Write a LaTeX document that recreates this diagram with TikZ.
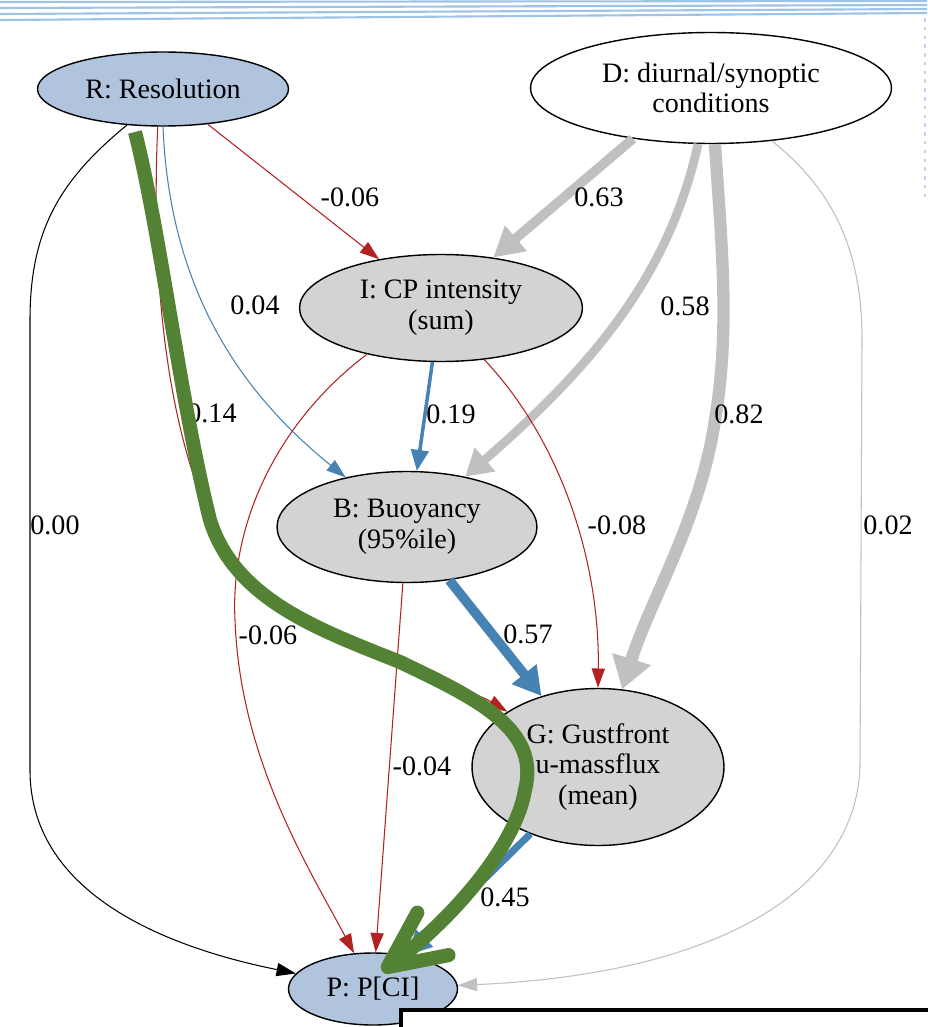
\documentclass[tikz,border=0pt]{standalone}
\usepackage{fontspec}
\setmainfont{Liberation Serif}
\usepackage{xcolor}
\usepackage{tikz}
\usetikzlibrary{positioning, arrows.meta, shapes.geometric}
\definecolor{resblue}{HTML}{B0C4DE}
\definecolor{vargray}{HTML}{D3D3D3}
\definecolor{negred}{HTML}{B22222}
\definecolor{posblue}{HTML}{4682B4}
\definecolor{condgray}{HTML}{C0C0C0}
\definecolor{pathgreen}{HTML}{548235}
\definecolor{stripeblue}{HTML}{9DC3E6}
\newcommand{\gvfont}{\fontsize{16}{17.5}\selectfont}

\begin{document}
\begin{tikzpicture}[
    x=0.02cm, y=-0.02cm,
    vnode/.style={ellipse, draw, line width=0.8pt, inner sep=0pt, align=center, font=\gvfont},
    obsnode/.style={vnode, fill=resblue},
    latnode/.style={vnode, fill=vargray},
    thinhead/.style={-{Triangle[length=11pt, width=7.5pt]}},
    negedge/.style={thinhead, negred, line width=0.6pt},
    posedge/.style={posblue},
    condedge/.style={condgray},
    hilite/.style={pathgreen, line width=8pt, -{Straight Barb[length=32pt, width=30pt, round]}},
    lab/.style={font=\gvfont, inner sep=0pt, text=black}
]
\useasboundingbox[fill=white] (0,0) rectangle (927,1027);

% Slide decoration
\foreach \k in {0,...,3}
  \draw[stripeblue, line width=1.2pt] (0,{2+6*\k}) -- (927,{1+4*\k});
\draw[stripeblue!70, line width=1.5pt, dash pattern=on 2pt off 3pt] (925,18) -- (925,200);

% Top row: resolution and conditions
\node[obsnode, minimum width=5.02cm, minimum height=1.48cm] (R) at (163,89) {R: Resolution};
\node[vnode, minimum width=7.22cm, minimum height=2.22cm] (D) at (711,88) {D: diurnal/synoptic\\conditions};

% Cold pool chain
\node[latnode, minimum width=5.66cm, minimum height=2.14cm] (I) at (441,308) {I: CP intensity\\(sum)};
\node[latnode, minimum width=5.2cm, minimum height=2.22cm] (B) at (407,527) {B: Buoyancy\\(95\%ile)};
\node[latnode, minimum width=5.04cm, minimum height=3.14cm] (G) at (598,767) {G: Gustfront\\u-massflux\\(mean)};

% Outcome
\node[obsnode, minimum width=3.38cm, minimum height=1.44cm] (P) at (373,989) {P: P[CI]};

% Edges from R
\draw[negedge] (R) -- (I) node[lab] at (350,197) {-0.06};
\draw[posedge, thinhead, line width=0.6pt] (R.south) .. controls (170,300) and (250,400) .. (B)
  node[lab] at (255,305) {0.04};
\draw[negedge] (R.262) .. controls (150,300) and (172,440) .. (215,530)
  .. controls (245,600) and (330,635) .. (410,668)
  .. controls (450,685) and (480,695) .. (G) node[lab] at (212,413) {0.14};
\draw[thinhead, black, line width=0.6pt] (R.225) .. controls (60,180) and (30,230) .. (30,320)
  -- (30,770) .. controls (30,900) and (180,950) .. (P) node[lab] at (55,525) {0.00};

% Edges from D
\draw[condedge, line width=5.5pt, -{Triangle[length=17pt, width=18pt]}] (D.213) -- (I.44)
  node[lab] at (599,197) {0.63};
\draw[condedge, line width=5pt, -{Triangle[length=15pt, width=17pt]}] (D.257)
  .. controls (670,270) and (600,360) .. (B) node[lab] at (685,306) {0.58};
\draw[condedge, line width=7pt, -{Triangle[length=18pt, width=22pt]}] (D.274)
  .. controls (722,250) and (730,330) .. (715,420)
  .. controls (700,520) and (650,600) .. (G) node[lab] at (739,414) {0.82};
\draw[condedge, thinhead, line width=0.6pt] (D.319) .. controls (840,195) and (862,260) .. (862,340)
  -- (860,767) .. controls (855,900) and (700,975) .. (P) node[lab] at (888,525) {0.02};

% Edges from I
\draw[posedge, line width=2pt, -{Triangle[length=12pt, width=10pt]}] (I.261) -- (B.80)
  node[lab] at (451,414) {0.19};
\draw[negedge] (I.310) .. controls (560,440) and (600,560) .. (G.north)
  node[lab] at (617,525) {-0.08};
\draw[negedge] (I.212) .. controls (280,420) and (230,520) .. (235,620)
  .. controls (240,760) and (310,870) .. (P) node[lab] at (268,635) {-0.06};

% Edges from B and G
\draw[posedge, line width=5.5pt, -{Triangle[length=16pt, width=17pt]}] (B) -- (G)
  node[lab] at (528,634) {0.57};
\draw[negedge] (B) -- (P) node[lab] at (422,766) {-0.04};
\draw[posedge, line width=4pt, -{Triangle[length=14pt, width=13pt]}] (G) -- (P)
  node[lab] at (505,897) {0.45};

% Highlighted pathway
\coordinate (gstart) at (135,132);
\draw[hilite] (gstart) .. controls (160,230) and (180,400) .. (210,520)
  .. controls (235,600) and (320,630) .. (400,662)
  .. controls (480,700) and (540,730) .. (525,790)
  .. controls (515,850) and (445,925) .. ([shift={(9,19)}]P.north);

% Overlapping box
\draw[line width=2.4pt, fill=white] (401,1010) rectangle (960,1060);

\end{tikzpicture}
\end{document}
